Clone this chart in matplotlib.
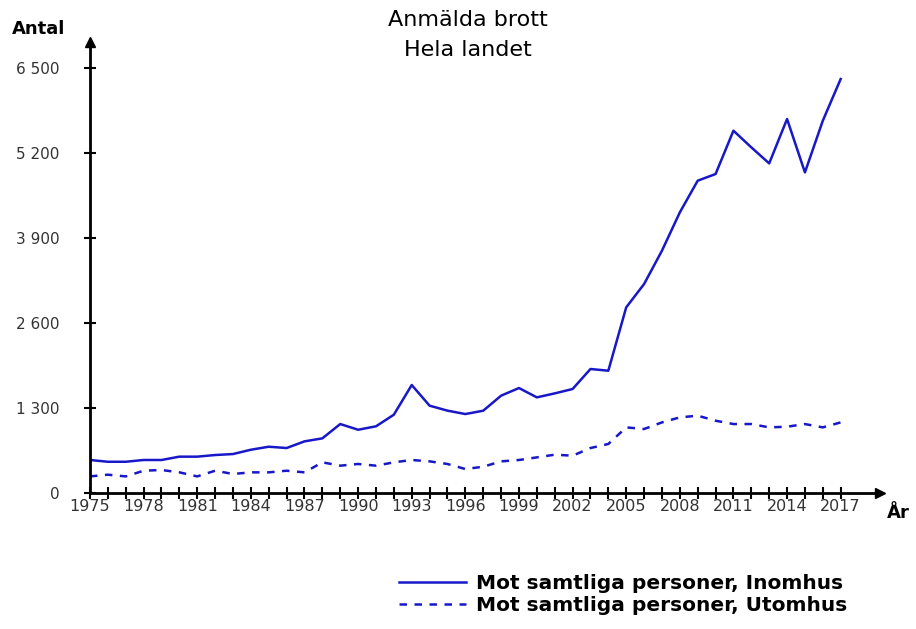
import matplotlib.pyplot as plt

years = list(range(1975, 2018))
inomhus = [505, 478, 478, 505, 505, 556, 556, 581, 596, 662, 708, 688, 790, 836,
           1055, 968, 1020, 1198, 1652, 1336, 1260,
           1208, 1259, 1489, 1606, 1463, 1524, 1591, 1897, 1871, 2840, 3197,
           3707, 4293, 4778, 4880, 5543, 5288, 5043, 5722, 4905, 5696, 6334]
utomhus = [254, 280, 254, 341, 352, 316, 254, 341, 291, 316, 316, 341, 316, 469, 418,
           444, 418, 469, 505, 484, 444, 367, 402, 484, 505, 545, 586, 571, 688, 750,
           1004, 979, 1080, 1157, 1183, 1106, 1055, 1055, 1004, 1014, 1055, 1004, 1080]

yticks = [0, 1300, 2600, 3900, 5200, 6500]
ytick_labels = ["0", "1 300", "2 600", "3 900", "5 200", "6 500"]
xtick_labels = list(range(1975, 2018, 3))

blue = "#1818c8"
W, H = 916, 629
fig = plt.figure(figsize=(W / 100, H / 100), dpi=100)
ax = fig.add_axes([90 / W, 1 - 493 / H, (880 - 90) / W, (493 - 42) / H])

ax.plot(years, inomhus, color=blue, lw=1.8, label="Mot samtliga personer, Inomhus")
ax.plot(years, utomhus, color=blue, lw=1.8, ls=(0, (3, 3)),
        label="Mot samtliga personer, Utomhus")

ax.set_xlim(1975, 2019.2)
ax.set_ylim(0, 6900)
for s in ["top", "right"]:
    ax.spines[s].set_visible(False)
for s in ["left", "bottom"]:
    ax.spines[s].set_linewidth(2)
ax.plot(1, 0, ">k", ms=7, transform=ax.transAxes, clip_on=False)
ax.plot(0, 1, "^k", ms=7, transform=ax.transAxes, clip_on=False)

ax.set_xticks(years, minor=True)
ax.set_xticks(xtick_labels)
ax.set_xticklabels([str(y) for y in xtick_labels])
ax.set_yticks(yticks)
ax.set_yticklabels(ytick_labels)
ax.tick_params(which="both", direction="inout", length=8, width=1.5, color="black")
ax.tick_params(axis="x", labelsize=11.5, labelcolor="#333333", pad=0)
ax.tick_params(axis="y", labelsize=11, labelcolor="#333333", pad=18)

fig.text(468 / W, 1 - 20 / H, "Anmälda brott", ha="center", va="center", fontsize=16,
         fontweight="medium")
fig.text(468 / W, 1 - 50 / H, "Hela landet", ha="center", va="center", fontsize=16,
         fontweight="medium")
fig.text(12 / W, 1 - 29 / H, "Antal", fontsize=13, fontweight="bold", va="center")
fig.text(887 / W, 1 - 513 / H, "År", fontsize=13, fontweight="bold", va="center")

handles, labels = ax.get_legend_handles_labels()
fig.legend(handles, labels, loc="upper left", bbox_to_anchor=(385 / W, 1 - 560 / H),
           frameon=False, handlelength=3.3, handletextpad=0.5, labelspacing=0.15,
           borderpad=0.2, prop={"size": 14.5, "weight": "bold"})

fig.savefig("out.png", dpi=100)
